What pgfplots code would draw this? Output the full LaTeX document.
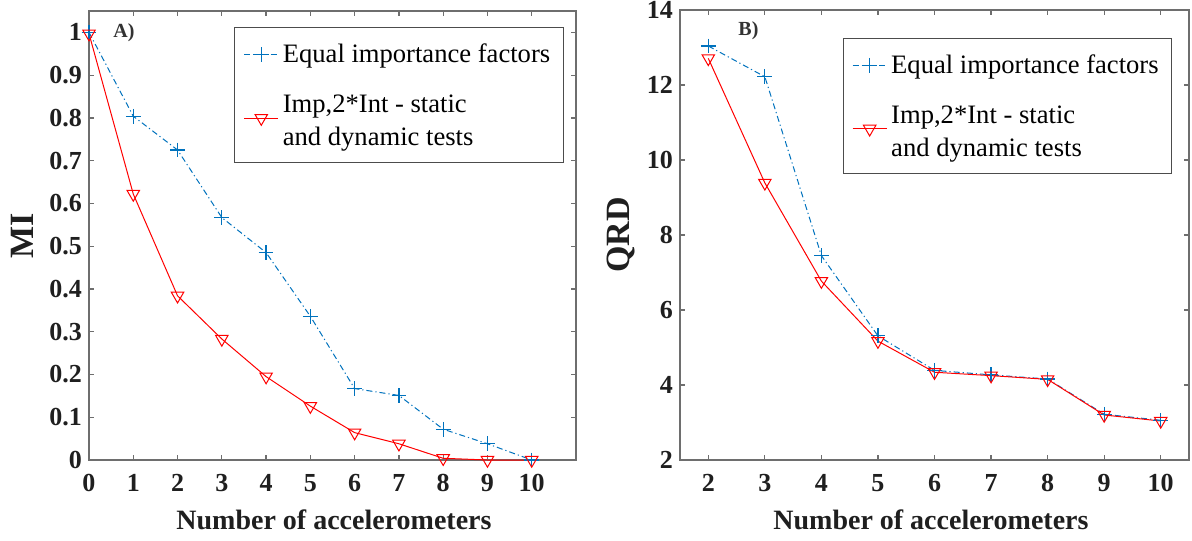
\documentclass[border=0pt]{standalone}
\usepackage{fontspec}
\setmainfont{Liberation Serif}
\newfontfamily\tnr{Liberation Serif}
\usepackage{pgfplots}
\pgfplotsset{compat=1.18}
\definecolor{mblue}{RGB}{0,114,189}
\definecolor{mred}{RGB}{255,0,0}
\definecolor{framec}{RGB}{110,110,110}
\pgfplotsset{
  common/.style={
    scale only axis,
    axis line style={framec, line width=0.6pt},
    tick style={framec, line width=0.6pt},
    tick align=inside,
    major tick length=2.5pt,
    xtick pos=both, ytick pos=both,
    /pgf/number format/assume math mode=true,
    tick label style={font=\tnr\bfseries\fontsize{13}{13}\selectfont, text=black!88},
    xticklabel style={yshift=-3.5pt},
    label style={font=\tnr\bfseries\fontsize{14}{14}\selectfont, text=black!88},
    legend cell align=left,
    legend style={font=\tnr\fontsize{13.3}{16.5}\selectfont, draw=black!70, line width=0.6pt,
      inner xsep=4.5pt, inner ysep=6pt, row sep=8pt},
  },
  blueline/.style={color=mblue, line width=0.5pt, dash pattern=on 3pt off 1.5pt on 0.6pt off 1.5pt,
      mark=+, mark size=3.7pt, mark options={solid, mblue, line width=0.6pt}},
  redline/.style={color=mred, line width=0.5pt, mark=triangle, mark size=3.6pt,
      mark options={solid, mred, rotate=180, line width=0.5pt}},
}
\newcommand{\entA}{Equal importance factors\hspace{7pt}}
\newcommand{\entB}{\begin{tabular}{@{}l@{}}Imp,2*Int - static\\and dynamic tests\rule[-19pt]{0pt}{19pt}\end{tabular}}
\begin{document}
\begin{tikzpicture}
\useasboundingbox (-44.5pt,-40pt) rectangle (551.5pt,230pt);
\begin{axis}[common,
  at={(0pt,0pt)}, anchor=south west,
  width=243.5pt, height=224.5pt,
  xmin=0, xmax=11, ymin=0, ymax=1.05,
  xtick={0,1,...,10},
  ytick={0,0.1,...,1},
  yticklabels={0,0.1,0.2,0.3,0.4,0.5,0.6,0.7,0.8,0.9,1},
  xlabel={Number of accelerometers},
  ylabel={MI},
  xlabel style={at={(axis description cs:0.503,-0.134)}, anchor=center},
  ylabel style={at={(axis description cs:-0.1376,0.5)}, anchor=center, font=\tnr\bfseries\fontsize{17}{17}\selectfont},
  legend style={at={(axis description cs:0.975,0.964)}, anchor=north east},
]
\addplot[blueline] coordinates {(0,1.0) (1,0.804) (2,0.725) (3,0.567) (4,0.485) (5,0.336) (6,0.167) (7,0.151) (8,0.072) (9,0.038) (10,0.0)};
\addlegendentry{\entA}
\addplot[redline] coordinates {(0,0.997) (1,0.622) (2,0.384) (3,0.283) (4,0.195) (5,0.126) (6,0.064) (7,0.038) (8,0.004) (9,0.0) (10,0.0)};
\addlegendentry{\entB}
\node[font=\tnr\bfseries\fontsize{10}{10}\selectfont, text=black!80] at (axis cs:0.79,1.0) {A)};
\end{axis}
\begin{axis}[common,
  at={(295.5pt,0pt)}, anchor=south west,
  width=254.5pt, height=225pt,
  xmin=1.5, xmax=10.5, ymin=2, ymax=14,
  xtick={2,3,...,10},
  ytick={2,4,...,14},
  xlabel={Number of accelerometers},
  ylabel={QRD},
  xlabel style={at={(axis description cs:0.493,-0.134)}, anchor=center},
  ylabel style={at={(axis description cs:-0.116,0.5)}, anchor=center, font=\tnr\bfseries\fontsize{17}{17}\selectfont},
  legend style={at={(axis description cs:0.967,0.938)}, anchor=north east},
]
\addplot[blueline] coordinates {(2,13.04) (3,12.22) (4,7.45) (5,5.31) (6,4.39) (7,4.27) (8,4.16) (9,3.22) (10,3.06)};
\addlegendentry{\entA}
\addplot[redline] coordinates {(2,12.71) (3,9.39) (4,6.77) (5,5.17) (6,4.34) (7,4.25) (8,4.15) (9,3.20) (10,3.04)};
\addlegendentry{\entB}
\node[font=\tnr\bfseries\fontsize{10}{10}\selectfont, text=black!80] at (axis cs:2.71,13.45) {B)};
\end{axis}
\end{tikzpicture}
\end{document}
